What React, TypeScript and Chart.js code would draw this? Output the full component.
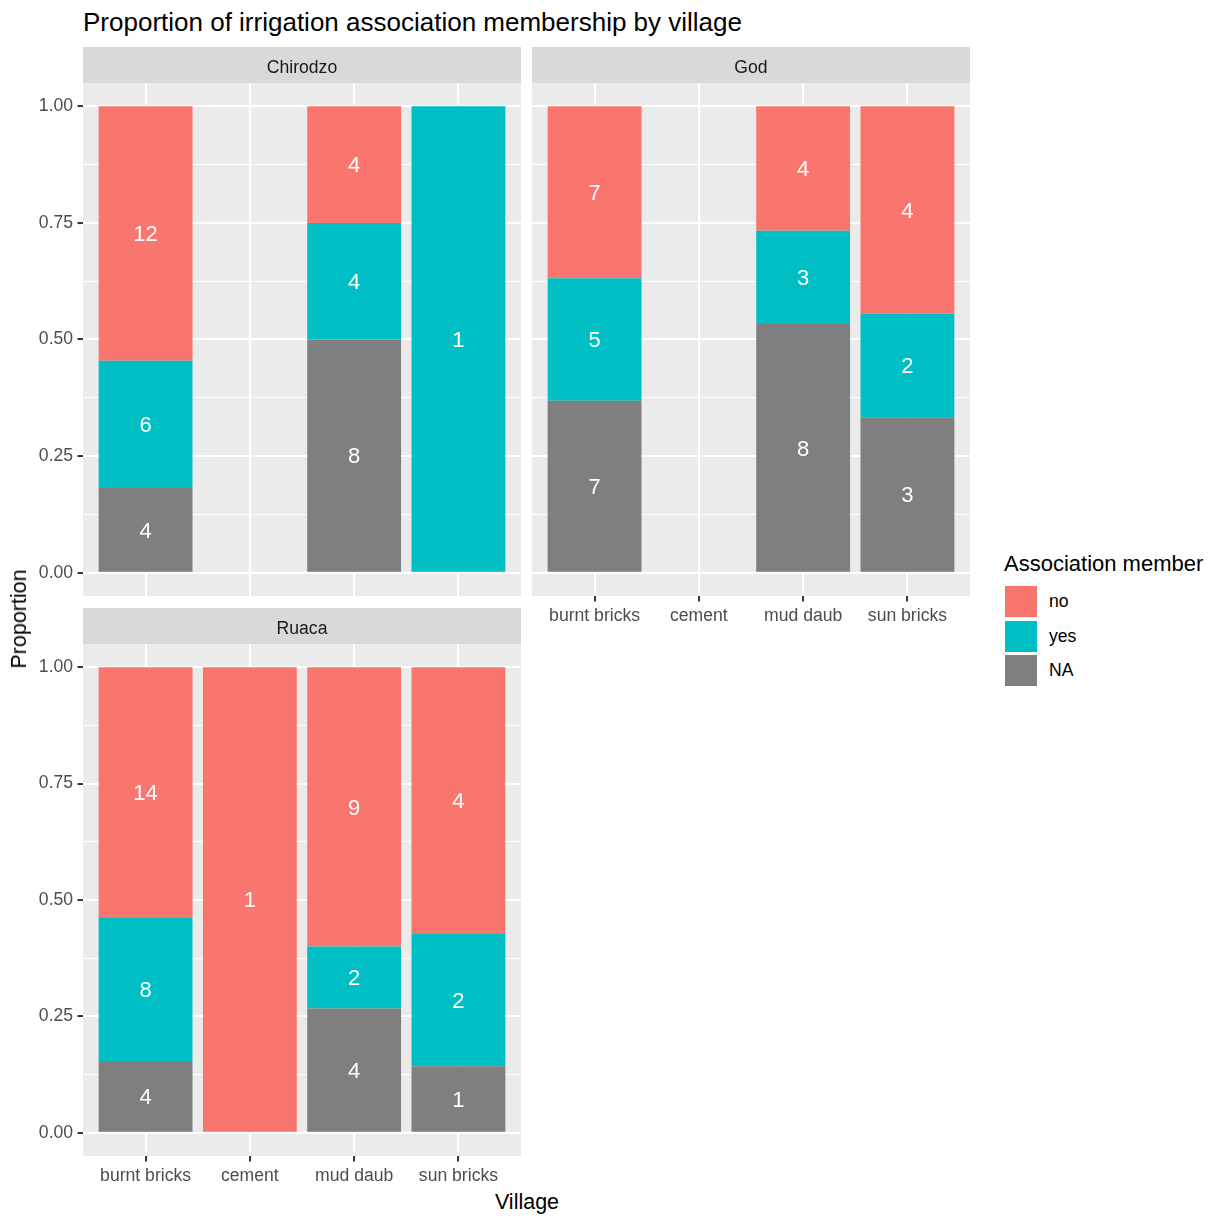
import { useEffect, useRef } from "react"
import { Chart, registerables } from "chart.js"

Chart.register(...registerables)

const FONT = '"Liberation Sans", Arial, Helvetica, sans-serif'

const housing = ["burnt bricks", "cement", "mud daub", "sun bricks"]
const members = ["no", "yes", "NA"]
const memberColors = ["#F8766D", "#00BFC4", "#7F7F7F"]

// household counts per housing type, by membership answer
const chirodzoNo = [12, 0, 4, 0]
const chirodzoYes = [6, 0, 4, 1]
const chirodzoNA = [4, 0, 8, 0]

const godNo = [7, 0, 4, 4]
const godYes = [5, 0, 3, 2]
const godNA = [7, 0, 8, 3]

const ruacaNo = [14, 1, 9, 4]
const ruacaYes = [8, 0, 2, 2]
const ruacaNA = [4, 0, 4, 1]

const yMajor = [0, 0.25, 0.5, 0.75, 1]
const yMinor = [0.125, 0.375, 0.625, 0.875]

const PANEL_W = 438
const STRIP_H = 37

interface PanelProps {
  name: string
  no: number[]
  yes: number[]
  na: number[]
  showX: boolean
  showY: boolean
  left: number
  top: number
  panelH: number
}

const isMajor = (v: number) => yMajor.some((m) => Math.abs(m - v) < 1e-9)

function Panel({ name, no, yes, na, showX, showY, left, top, panelH }: PanelProps) {
  const canvasRef = useRef<HTMLCanvasElement>(null)
  const yW = showY ? 53 : 0
  const xH = showX ? 30 : 0
  const width = yW + PANEL_W
  const height = STRIP_H + panelH + xH

  useEffect(() => {
    if (!canvasRef.current) return
    const totals = no.map((v, i) => v + yes[i] + na[i])
    // stacked bottom to top: NA, yes, no
    const stacks = [
      { label: "NA", counts: na, color: memberColors[2] },
      { label: "yes", counts: yes, color: memberColors[1] },
      { label: "no", counts: no, color: memberColors[0] },
    ]

    const panelPlugin = {
      id: "panel",
      beforeDraw(chart: any) {
        const { ctx, chartArea: a } = chart
        ctx.save()
        ctx.fillStyle = "#D9D9D9"
        ctx.fillRect(a.left, a.top - STRIP_H + 1, a.right - a.left, STRIP_H - 1)
        ctx.fillStyle = "#EBEBEB"
        ctx.fillRect(a.left, a.top, a.right - a.left, a.bottom - a.top)
        ctx.fillStyle = "#1A1A1A"
        ctx.font = `17.6px ${FONT}`
        ctx.textAlign = "center"
        ctx.textBaseline = "alphabetic"
        ctx.fillText(name, (a.left + a.right) / 2, a.top - 10.5)
        ctx.restore()
      },
    }

    const countPlugin = {
      id: "counts",
      afterDatasetsDraw(chart: any) {
        const { ctx } = chart
        ctx.save()
        ctx.fillStyle = "#FFFFFF"
        ctx.font = `22px ${FONT}`
        ctx.textAlign = "center"
        ctx.textBaseline = "alphabetic"
        chart.data.datasets.forEach((ds: any, k: number) => {
          const meta = chart.getDatasetMeta(k)
          meta.data.forEach((el: any, i: number) => {
            const c = ds.counts[i]
            if (!c) return
            const { x, y, base } = el.getProps(["x", "y", "base"], true)
            ctx.fillText(String(c), x, (y + base) / 2 + 0.358 * 22)
          })
        })
        ctx.restore()
      },
    }

    const chart = new Chart(canvasRef.current, {
      type: "bar",
      data: {
        datasets: stacks.map((s) => ({
          label: s.label,
          counts: s.counts,
          data: s.counts.map((c, i) => ({ x: i + 1, y: c > 0 ? c / totals[i] : null })),
          backgroundColor: s.color,
          borderWidth: 0,
          barPercentage: 0.9,
          categoryPercentage: 1,
        })) as any,
      },
      options: {
        animation: false,
        responsive: true,
        maintainAspectRatio: false,
        layout: { padding: { top: STRIP_H, left: 0, right: 0, bottom: 0 } },
        plugins: { legend: { display: false }, tooltip: { enabled: false } },
        scales: {
          x: {
            type: "linear",
            stacked: true,
            offset: false,
            min: 0.4,
            max: 4.6,
            afterBuildTicks: (s: any) => {
              s.ticks = housing.map((_, i) => ({ value: i + 1 }))
            },
            afterFit: (s: any) => {
              s.height = xH
              s.paddingLeft = 0
              s.paddingRight = 0
            },
            ticks: {
              display: showX,
              autoSkip: false,
              maxRotation: 0,
              padding: 4,
              color: "#4D4D4D",
              font: { family: FONT, size: 17.6 },
              callback: (v: any) => housing[Math.round(Number(v)) - 1] ?? "",
            },
            grid: {
              offset: false,
              color: "#FFFFFF",
              lineWidth: 2.1,
              drawTicks: showX,
              tickLength: 5.5,
              tickColor: "#333333",
              tickWidth: 2,
            },
            border: { display: false },
          },
          y: {
            type: "linear",
            stacked: true,
            min: -0.05,
            max: 1.05,
            afterBuildTicks: (s: any) => {
              s.ticks = [...yMajor, ...yMinor].sort((a, b) => a - b).map((v) => ({ value: v }))
            },
            afterFit: (s: any) => {
              s.width = yW
              s.paddingTop = 0
              s.paddingBottom = 0
            },
            ticks: {
              display: showY,
              autoSkip: false,
              padding: 4.4,
              color: "#4D4D4D",
              font: { family: FONT, size: 17.6 },
              callback: (v: any) => (isMajor(Number(v)) ? Number(v).toFixed(2) : ""),
            },
            grid: {
              color: "#FFFFFF",
              lineWidth: (ctx: any) => (ctx.tick && isMajor(ctx.tick.value) ? 2.1 : 1.05),
              drawTicks: showY,
              tickLength: 5.5,
              tickColor: (ctx: any) => (ctx.tick && isMajor(ctx.tick.value) ? "#333333" : "rgba(0,0,0,0)"),
              tickWidth: 2,
            },
            border: { display: false },
          },
        },
      } as any,
      plugins: [panelPlugin, countPlugin],
    })

    return () => {
      chart.destroy()
    }
  }, [name, no, yes, na, showX, showY, xH, yW])

  return (
    <div style={{ position: "absolute", left, top, width, height }}>
      <canvas ref={canvasRef}></canvas>
    </div>
  )
}

export default function App() {
  return (
    <div
      style={{
        position: "fixed",
        left: 0,
        top: 0,
        width: 1224,
        height: 1224,
        background: "#FFFFFF",
        fontFamily: FONT,
        overflow: "hidden",
      }}
    >
      <div style={{ position: "absolute", left: 83, top: 9, fontSize: 26, lineHeight: "26px", color: "#000", whiteSpace: "nowrap" }}>
        Proportion of irrigation association membership by village
      </div>

      <Panel name="Chirodzo" no={chirodzoNo} yes={chirodzoYes} na={chirodzoNA} showX={false} showY={true} left={30} top={46} panelH={513} />
      <Panel name="God" no={godNo} yes={godYes} na={godNA} showX={true} showY={false} left={532} top={46} panelH={513} />
      <Panel name="Ruaca" no={ruacaNo} yes={ruacaYes} na={ruacaNA} showX={true} showY={true} left={30} top={607} panelH={512} />

      <div
        style={{
          position: "absolute",
          left: 19,
          top: 619,
          transform: "translate(-50%, -50%) rotate(-90deg)",
          fontSize: 21.5,
          lineHeight: "22px",
          color: "#000",
          whiteSpace: "nowrap",
        }}
      >
        Proportion
      </div>
      <div
        style={{
          position: "absolute",
          left: 527,
          top: 1192,
          transform: "translateX(-50%)",
          fontSize: 21.5,
          lineHeight: "21.5px",
          color: "#000",
          whiteSpace: "nowrap",
        }}
      >
        Village
      </div>

      <div style={{ position: "absolute", left: 1004, top: 553, fontSize: 22, lineHeight: "22px", color: "#000", whiteSpace: "nowrap" }}>
        Association member
      </div>
      {members.map((m, i) => (
        <div key={m}>
          <div
            style={{
              position: "absolute",
              left: 1005,
              top: 586 + i * 34.6,
              width: 32,
              height: 31,
              background: memberColors[i],
            }}
          />
          <div
            style={{
              position: "absolute",
              left: 1049,
              top: 586 + i * 34.6,
              height: 31,
              fontSize: 17.6,
              lineHeight: "31px",
              color: "#000",
              whiteSpace: "nowrap",
            }}
          >
            {m}
          </div>
        </div>
      ))}
    </div>
  )
}
